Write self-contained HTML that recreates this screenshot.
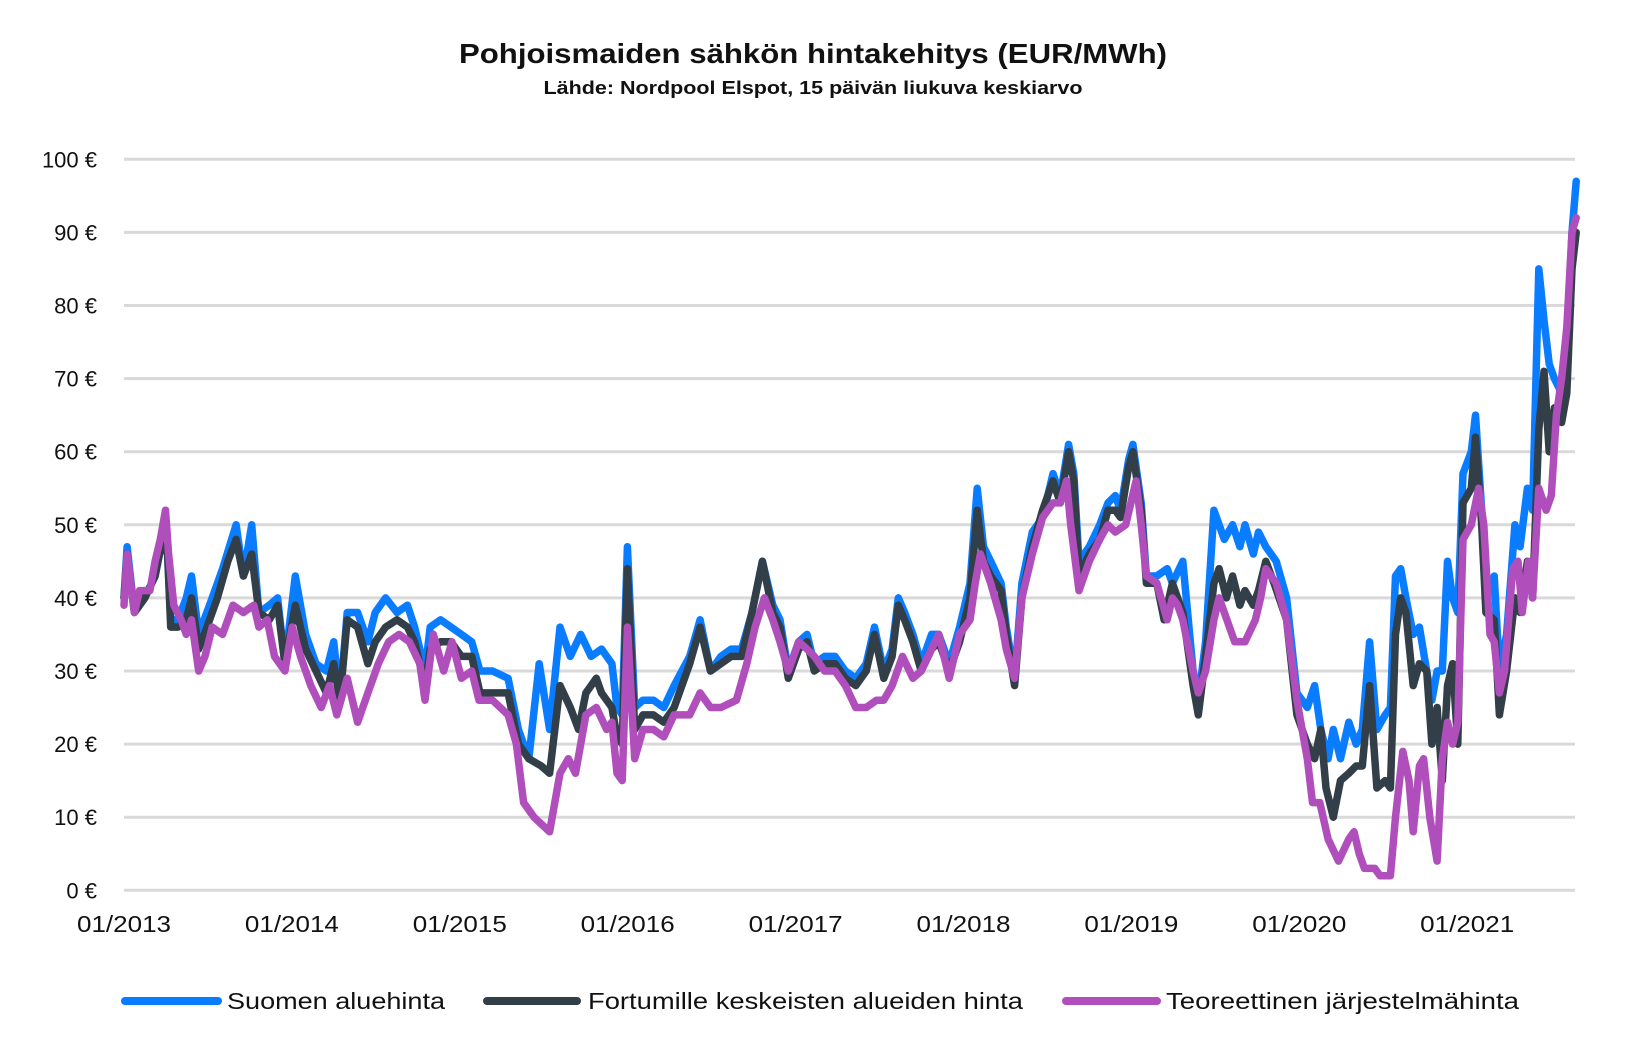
<!DOCTYPE html>
<html><head><meta charset="utf-8"><style>
html,body{margin:0;padding:0;background:#fff;}
svg{display:block;font-family:"Liberation Sans",sans-serif;}
</style></head><body>
<svg id="c" width="1626" height="1059" viewBox="0 0 1626 1059" xmlns="http://www.w3.org/2000/svg">
<text x="813" y="63" text-anchor="middle" font-size="28" font-weight="bold" fill="#111" textLength="708" lengthAdjust="spacingAndGlyphs">Pohjoismaiden sähkön hintakehitys (EUR/MWh)</text>
<text x="813" y="94" text-anchor="middle" font-size="18" font-weight="bold" fill="#111" textLength="539" lengthAdjust="spacingAndGlyphs">Lähde: Nordpool Elspot, 15 päivän liukuva keskiarvo</text>
<g id="grid"></g>
<g id="series" fill="none" stroke-width="7.5" stroke-linejoin="round" stroke-linecap="round"></g>
<g font-size="23" fill="#111">
<line x1="125" y1="1001" x2="218" y2="1001" stroke="#0a7cff" stroke-width="8" stroke-linecap="round"/>
<text x="227" y="1009" textLength="218" lengthAdjust="spacingAndGlyphs">Suomen aluehinta</text>
<line x1="487" y1="1001" x2="577" y2="1001" stroke="#323e48" stroke-width="8" stroke-linecap="round"/>
<text x="588" y="1009" textLength="435" lengthAdjust="spacingAndGlyphs">Fortumille keskeisten alueiden hinta</text>
<line x1="1066" y1="1001" x2="1157" y2="1001" stroke="#b04fbb" stroke-width="8" stroke-linecap="round"/>
<text x="1166" y="1009" textLength="353" lengthAdjust="spacingAndGlyphs">Teoreettinen järjestelmähinta</text>
</g>
</svg>
<script>
var NS="http://www.w3.org/2000/svg";
function el(n,a,p,t){var e=document.createElementNS(NS,n);for(var k in a)e.setAttribute(k,a[k]);if(t)e.textContent=t;p.appendChild(e);return e;}
var g=document.getElementById('grid');
function Y(v){return 890.3-v*7.31;}
function X(d){return 124+(d-120)*1.038;}
for(var v=0;v<=100;v+=10){
 el('line',{x1:124,x2:1575,y1:Y(v),y2:Y(v),stroke:'#d9d9d9','stroke-width':3},g);
 el('text',{x:97,y:Y(v)+8,'text-anchor':'end','font-size':22,fill:'#111'},g,v+' €');
}
var yrs=[2013,2014,2015,2016,2017,2018,2019,2020,2021];
yrs.forEach(function(y,i){el('text',{x:124+i*167.9,y:932,'text-anchor':'middle','font-size':23,fill:'#111',textLength:94,lengthAdjust:'spacingAndGlyphs'},g,'01/'+y);});
function P(s){var a=s.trim().split(/[\s,]+/),o=[];for(var i=0;i<a.length;i++){var q=a[i].split(':');o.push(X(+q[0]).toFixed(1)+','+Y(+q[1]).toFixed(1));}return o.join(' ');}
var purple="120:39 123:46 130:38 135:41 145:41 150:45 155:48 160:52 163:46 168:39 175:37 180:35 185:37 192:30 198:32 205:36 215:35 225:39 235:38 245:39 250:36 258:37 265:32 275:30 282:36 290:32 300:28 310:25 318:28 325:24 335:29 345:23 355:27 365:31 375:34 385:35 395:34 405:31 410:26 418:35 428:30 436:34 445:29 455:30 462:26 475:26 490:24 498:20 505:12 515:10 530:8 540:16 548:18 555:16 565:24 575:25 585:22 590:23 595:16 600:15 605:36 612:18 620:22 630:22 640:21 650:24 665:24 675:27 685:25 695:25 710:26 720:31 728:36 737:40 745:37 752:34 760:30 770:34 778:33 785:32 795:30 805:30 815:28 825:25 835:25 845:26 852:26 860:28 870:32 880:29 888:30 898:33 905:35 915:29 925:35 935:37 940:42 945:46 955:42 965:37 970:33 978:29 985:40 995:46 1005:51 1015:53 1022:53 1028:56 1032:50 1040:41 1050:45 1060:48 1068:50 1075:49 1085:50 1090:53 1095:56 1100:50 1105:43 1115:42 1125:37 1130:40 1135:39 1140:37 1150:30 1155:27 1162:30 1170:37 1175:40 1180:38 1190:34 1200:34 1210:37 1215:40 1220:44 1230:42 1240:37 1250:26 1260:18 1265:12 1272:12 1280:7 1290:4 1300:7 1305:8 1310:5 1315:3 1325:3 1330:2 1340:2 1345:10 1352:19 1358:15 1362:8 1368:17 1372:18 1378:10 1385:4 1390:18 1395:23 1400:20 1405:23 1410:48 1418:50 1425:55 1430:50 1436:35 1440:34 1445:27 1450:30 1458:44 1463:45 1467:38 1473:45 1477:40 1483:55 1490:52 1495:54 1500:65 1505:70 1510:77 1515:90 1519:92";
var dark="120:40 123:46 130:38 140:40 150:43 157:48 162:46 165:36 172:36 180:37 185:40 192:33 200:36 210:40 220:45 228:48 235:43 243:46 250:38 260:37 268:39 275:31 285:39 295:33 305:30 315:27 322:31 328:26 335:37 345:36 355:31 362:34 372:36 383:37 393:36 400:34 410:28 415:33 425:34 435:34 445:32 455:32 463:27 475:27 490:27 500:20 510:18 522:17 530:16 540:28 550:25 558:22 565:27 575:29 580:27 590:25 595:21 600:20 605:44 612:22 620:24 630:24 640:23 650:25 665:31 675:36 685:30 695:31 705:32 715:32 725:38 735:45 745:38 752:36 760:29 770:33 778:34 785:30 795:31 805:31 815:29 825:28 835:30 843:35 852:29 860:32 866:39 872:37 880:34 888:30 898:33 905:34 915:30 925:34 935:40 942:52 948:45 955:43 965:41 970:35 978:28 985:40 995:47 1005:52 1015:56 1022:53 1030:60 1035:56 1040:43 1050:46 1060:48 1068:52 1075:52 1080:51 1088:58 1092:60 1100:52 1105:42 1115:42 1122:37 1130:42 1140:38 1150:28 1155:24 1162:32 1170:42 1175:44 1182:40 1188:43 1195:39 1200:41 1208:39 1213:41 1220:45 1228:42 1240:37 1250:24 1260:20 1267:18 1273:22 1278:14 1285:10 1292:15 1300:16 1307:17 1313:17 1320:28 1327:14 1335:15 1340:14 1345:35 1350:40 1355:38 1362:28 1368:31 1375:30 1380:20 1385:25 1390:15 1395:28 1400:31 1405:20 1410:53 1418:55 1422:62 1428:50 1432:38 1440:37 1445:24 1452:30 1460:40 1465:38 1472:45 1477:40 1483:63 1488:71 1493:60 1498:66 1505:64 1510:68 1515:85 1519:90";
var blue="120:40 123:47 130:38 140:40 150:43 157:48 162:46 165:37 172:37 180:40 185:43 192:35 205:40 215:44 228:50 235:43 243:50 250:38 260:39 268:40 275:31 285:43 295:35 305:31 315:30 322:34 328:26 335:38 345:38 355:34 362:38 372:40 383:38 393:39 400:36 410:30 415:36 425:37 435:36 445:35 455:34 463:30 475:30 490:29 500:22 510:18 520:31 530:22 540:36 550:32 560:35 570:32 580:33 590:31 595:25 600:24 605:47 612:25 620:26 630:26 640:25 650:28 665:32 675:37 685:30 695:32 705:33 715:33 725:38 735:45 745:39 752:37 760:30 770:34 778:35 785:31 795:32 805:32 815:30 825:29 835:31 843:36 852:30 860:33 866:40 872:38 880:35 888:31 898:35 905:35 915:31 925:36 935:42 942:55 948:47 955:45 965:42 970:36 978:29 985:42 995:49 1005:51 1015:57 1022:54 1030:61 1035:57 1040:45 1050:47 1060:50 1068:53 1075:54 1080:52 1088:59 1092:61 1100:53 1105:43 1115:43 1125:44 1130:42 1140:45 1150:30 1155:26 1162:34 1170:52 1180:48 1188:50 1195:47 1200:50 1208:46 1213:49 1220:47 1230:45 1240:40 1250:27 1260:25 1267:28 1273:22 1280:18 1285:22 1292:18 1300:23 1307:20 1313:22 1320:34 1327:22 1335:24 1340:25 1345:43 1350:44 1355:40 1362:35 1368:36 1375:30 1380:26 1385:30 1390:30 1395:45 1400:40 1405:38 1410:57 1418:60 1422:65 1428:52 1432:40 1440:43 1445:30 1452:35 1460:50 1465:47 1472:55 1477:52 1483:85 1488:78 1493:72 1498:70 1505:68 1510:75 1515:90 1519:97";
var s=document.getElementById('series');
el('polyline',{points:P(blue),stroke:'#0a7cff'},s);
el('polyline',{points:P(dark),stroke:'#323e48'},s);
el('polyline',{points:P(purple),stroke:'#b04fbb'},s);
</script>
</body></html>
